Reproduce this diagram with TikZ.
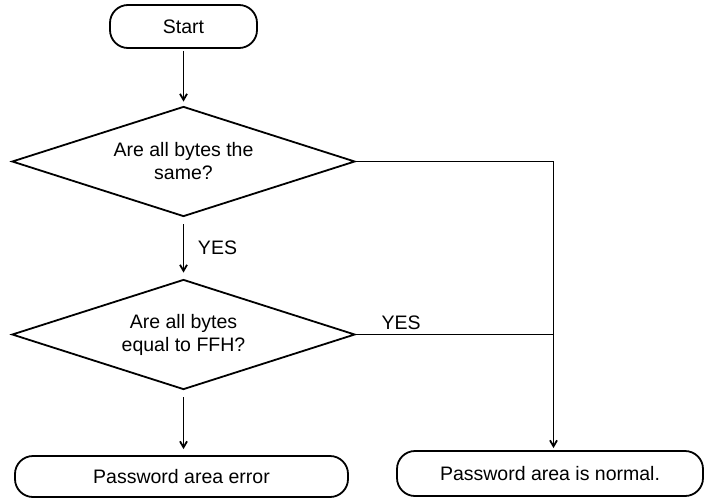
\documentclass[tikz,border=0pt]{standalone}
\usepackage{fontspec}
\setmainfont{Liberation Sans}
\usetikzlibrary{shapes.geometric}
\usetikzlibrary{arrows.meta}

\tikzset{
  terminal/.style={draw, rounded corners=9pt, align=center, inner sep=0pt},
  decision/.style={draw, diamond, aspect=3.1, minimum width=171.5pt, minimum height=55pt, inner sep=0pt, align=center},
  flow/.style={-{Straight Barb[length=3pt,width=3.5pt]}},
}

\begin{document}
\begin{tikzpicture}[x=0.5pt, y=-0.5pt, line width=0.9pt, font=\fontsize{9.75}{11.5}\selectfont]
            \useasboundingbox (0,0) rectangle (704,498);

            \node[terminal, minimum width=73.5pt, minimum height=21.5pt] (start) at (183.5, 26.5) {Start};
            \node[decision] (same) at (183.5, 161.5) {Are all bytes the\\same?};
            \node[decision] (ffh) at (183.5, 334.5) {Are all bytes\\equal to FFH?};
            \node[terminal, minimum width=166.5pt, minimum height=20.5pt] (error) at (181.5, 476.5) {Password area error};
            \node[terminal, minimum width=153pt, minimum height=22.5pt] (normal) at (550, 473.5) {Password area is normal.};
            \node (yes1) at (217.5, 248) {YES};
            \node (yes2) at (401, 323) {YES};
            \coordinate (corner) at (553.5, 161.5);

            \draw[flow, shorten <=1pt, shorten >=2pt] (start) -- (same);
            \draw[flow, shorten <=3.5pt, shorten >=3pt] (same) -- (ffh);
            \draw[flow, shorten <=3.5pt, shorten >=3pt] (ffh.south) -- (ffh.south |- error.north);
            \draw (same.east) -- (corner);
            \draw (ffh.east) -- (ffh.east -| corner);
            \draw[flow, shorten >=1pt] (corner) -- (corner |- normal.north);
        \end{tikzpicture}
\end{document}
